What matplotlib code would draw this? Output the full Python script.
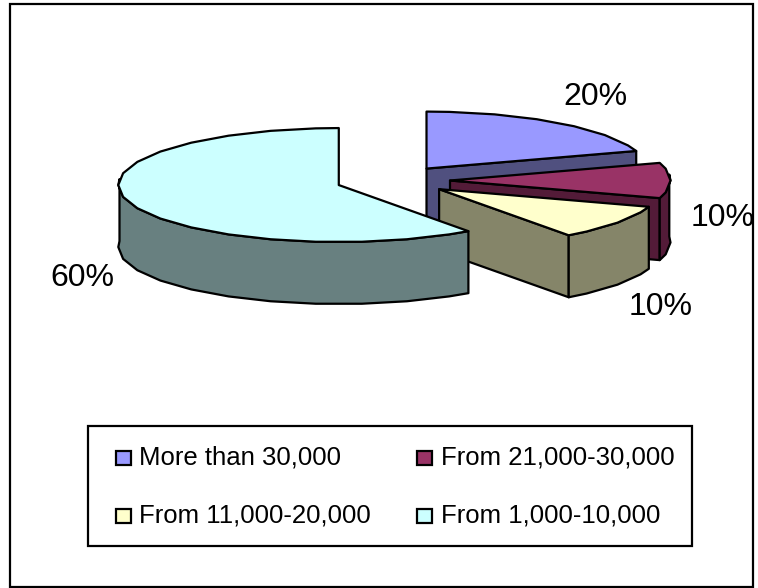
import numpy as np
import matplotlib
matplotlib.use("Agg")
import matplotlib.pyplot as plt
from matplotlib.patches import Polygon, Rectangle

categories = ["More than 30,000", "From 21,000-30,000", "From 11,000-20,000", "From 1,000-10,000"]
values = [20, 10, 10, 60]
top_colors = ["#9999FF", "#993366", "#FFFFCC", "#CCFFFF"]
side_colors = ["#50507F", "#531B38", "#858569", "#688080"]
labels = ["20%", "10%", "10%", "60%"]
label_xy = [(595, 97), (723, 218), (661, 307), (82, 278)]

CX, CY, RX, RY, DEPTH, EXPLODE = 393, 180.5, 220.5, 57, 62, 57
LW = 1.6
plt.rcParams["font.family"] = ["Liberation Sans", "DejaVu Sans"]

fig = plt.figure(figsize=(7.58, 5.88), dpi=100)
ax = fig.add_axes([0, 0, 1, 1])
ax.set_xlim(0, 758)
ax.set_ylim(588, 0)
ax.axis("off")

ax.add_patch(Rectangle((10, 3.5), 743, 583, fc="white", ec="black", lw=LW, zorder=0))


def pt(c, a, dy=0):
    r = np.radians(a)
    return (c[0] + RX * np.sin(r), c[1] - RY * np.cos(r) + dy)


def arc_angles(a0, a1):
    # Chunky polyline, like the faceted outline of the original renderer
    mids = [a for a in np.arange(6, 360, 12) if a0 < a < a1]
    return [a0] + mids + [a1]


cum = 0
z = 1
total = sum(values)
for v, top, side in zip(values, top_colors, side_colors):
    a0 = cum / total * 360
    a1 = (cum + v) / total * 360
    cum += v
    mid = np.radians((a0 + a1) / 2)
    c = (CX + EXPLODE * np.sin(mid), CY - EXPLODE * RY / RX * np.cos(mid))

    def add(poly, color):
        global z
        ax.add_patch(Polygon(poly, closed=True, fc=color, ec="black", lw=LW,
                             joinstyle="round", zorder=z))
        z += 1

    # radial faces
    for a, sign in ((a0, -1), (a1, 1)):
        normal = a + sign * 90
        if -np.cos(np.radians(normal)) > 1e-6:  # faces the viewer
            p = pt(c, a)
            add([c, p, (p[0], p[1] + DEPTH), (c[0], c[1] + DEPTH)], side)
    # outer wall: only the front half (90..270 degrees) plus the facet at the rim
    lo, hi = max(a0, 84), min(a1, 276)
    if lo < hi:
        angs = arc_angles(lo, hi)
        upper = [pt(c, a) for a in angs]
        lower = [pt(c, a, DEPTH) for a in reversed(angs)]
        add(upper + lower, side)
    # top face
    add([c] + [pt(c, a) for a in arc_angles(a0, a1)], top)

for t, (x, y) in zip(labels, label_xy):
    ax.text(x, y, t, fontsize=23, ha="center", va="center", color="black", zorder=50)

# legend
ax.add_patch(Rectangle((88, 425.5), 604, 120.5, fc="white", ec="black", lw=LW, zorder=60))
legend_x = [116, 417]
legend_text_x = [139, 441]
legend_y = [457.5, 515.5]
for i, (name, col) in enumerate(zip(categories, top_colors)):
    x = legend_x[i % 2]
    y = legend_y[i // 2]
    ax.add_patch(Rectangle((x, y - 7), 14.5, 14, fc=col, ec="black", lw=LW, zorder=61))
    ax.text(legend_text_x[i % 2], y, name, fontsize=18.5, ha="left", va="center", color="black", zorder=61)

fig.savefig("out.png", dpi=100)
